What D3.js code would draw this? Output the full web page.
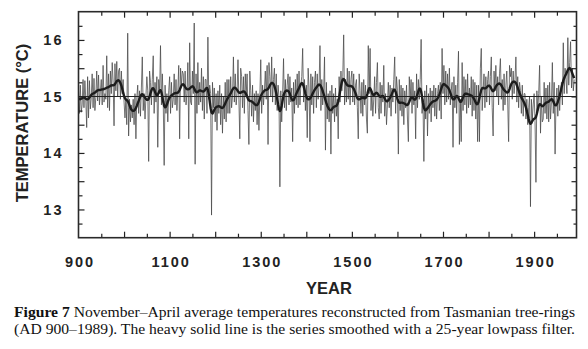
<!DOCTYPE html>
<html>
<head>
<meta charset="utf-8">
<script src="https://cdn.jsdelivr.net/npm/d3@7"></script>
<style>
  body { margin: 0; background: #fff; }
  svg { display: block; }
</style>
</head>
<body>
<svg id="chart" width="588" height="349"></svg>
<script>
// Reconstructed November–April temperatures (°C), one value every second year,
// grouped by century (first value of each array is the century's first year).
const temp900s = [
  15.12, 14.70, 15.20, 14.72, 14.85,  15.30, 14.80, 15.28, 14.95, 14.45,
  15.35, 14.62, 15.28, 14.78, 14.98,  15.40, 14.80, 15.32, 14.75, 14.98,
  15.45, 14.92, 15.38, 14.85, 15.10,  15.30, 14.85, 15.55, 14.90, 15.05,
  14.95, 15.72, 14.80, 15.40, 14.75,  15.45, 15.05, 15.60, 15.25, 14.48,
  15.58, 15.10, 15.62, 15.00, 15.45,  15.50, 14.95, 15.45, 15.05, 15.30
];
const temp1000s = [
  14.90, 14.62, 14.95, 14.50, 16.12,  14.30, 14.95, 14.55, 14.85, 14.62,
  14.95, 14.50, 15.05, 14.25, 14.98,  15.20, 14.70, 15.10, 14.65, 15.15,
  15.70, 14.75, 15.05, 14.60, 15.00,  15.35, 15.10, 13.85, 15.45, 15.25,
  14.85, 15.30, 15.72, 14.70, 15.25,  14.90, 15.35, 14.10, 15.30, 15.05,
  15.90, 14.85, 15.40, 14.90, 13.78,  15.20, 14.70, 15.05, 14.55, 15.10
];
const temp1100s = [
  15.35, 14.70, 15.25, 14.80, 14.95,  15.40, 14.85, 15.30, 14.75, 15.10,
  15.55, 14.25, 15.50, 15.20, 15.45,  15.40, 14.90, 15.45, 14.85, 15.05,
  15.60, 14.25, 15.95, 14.90, 14.85,  15.45, 15.05, 16.30, 13.80, 15.40,
  14.70, 15.60, 14.85, 15.25, 14.90,  15.50, 14.75, 15.35, 14.60, 15.30,
  15.30, 14.70, 16.05, 14.95, 15.20,  15.05, 12.90, 15.25, 14.80, 15.15
];
const temp1200s = [
  14.55, 15.05, 14.40, 15.10, 14.70,  15.20, 14.50, 15.05, 14.35, 15.00,
  14.60, 15.25, 14.55, 15.30, 14.70,  15.30, 14.70, 15.35, 14.80, 15.00,
  15.70, 14.90, 15.40, 14.85, 15.05,  15.65, 14.95, 14.25, 15.50, 15.35,
  14.80, 15.35, 14.70, 15.40, 15.00,  15.40, 14.75, 14.15, 15.45, 15.10,
  14.65, 15.20, 14.55, 15.05, 14.75,  15.10, 14.50, 15.05, 14.40, 15.00
];
const temp1300s = [
  15.65, 14.70, 15.20, 14.85, 15.10,  15.45, 14.95, 15.55, 14.15, 15.60,
  15.35, 15.00, 15.70, 14.90, 15.30,  15.50, 14.85, 15.40, 14.75, 15.20,
  15.00, 13.40, 15.10, 14.55, 15.05,  15.67, 14.80, 15.30, 14.75, 15.20,
  15.40, 14.85, 15.35, 14.90, 15.15,  14.20, 15.25, 14.70, 15.30, 14.85,
  15.40, 14.80, 15.45, 14.85, 15.20,  15.35, 15.85, 14.90, 15.30, 14.75
];
const temp1400s = [
  15.20, 14.27, 15.50, 15.15, 14.20,  15.40, 14.85, 15.35, 14.70, 15.25,
  15.45, 14.80, 15.40, 14.95, 15.20,  15.90, 14.75, 15.30, 14.85, 15.10,
  15.70, 14.05, 15.25, 14.60, 15.05,  14.55, 15.10, 13.98, 15.20, 14.70,
  15.05, 14.55, 15.15, 14.65, 14.95,  14.25, 15.35, 14.90, 15.45, 15.10,
  15.35, 16.09, 14.85, 15.30, 14.90,  15.50, 14.95, 15.45, 14.85, 15.30
];
const temp1500s = [
  15.45, 14.90, 15.40, 14.85, 15.20,  15.30, 14.80, 14.25, 15.40, 15.10,
  14.70, 15.25, 14.65, 15.30, 14.85,  15.20, 14.60, 14.35, 15.90, 15.05,
  15.85, 14.75, 15.10, 14.65, 14.95,  15.35, 14.70, 15.25, 15.60, 14.80,
  14.60, 15.25, 14.70, 15.20, 14.90,  15.55, 14.65, 15.05, 14.50, 14.85,
  15.25, 14.80, 15.20, 14.65, 15.15,  14.90, 15.30, 15.70, 14.70, 15.35
];
const temp1600s = [
  15.10, 13.98, 15.30, 14.75, 15.20,  14.65, 15.15, 14.50, 15.10, 14.80,
  15.20, 14.60, 14.20, 15.35, 14.95,  15.30, 14.70, 15.25, 14.85, 15.10,
  14.25, 15.40, 14.80, 15.30, 14.95,  15.30, 16.01, 14.70, 14.95, 13.85,
  15.10, 14.60, 15.20, 14.30, 15.05,  14.70, 15.15, 14.55, 15.10, 14.80,
  15.20, 14.65, 15.15, 14.60, 15.05,  15.20, 14.75, 15.25, 14.60, 15.85
];
const temp1700s = [
  15.05, 15.55, 14.85, 15.45, 14.90,  15.40, 14.95, 15.50, 14.85, 15.10,
  15.25, 14.10, 15.35, 14.80, 15.20,  14.70, 15.25, 15.80, 14.15, 14.95,
  14.20, 15.60, 14.75, 15.35, 14.85,  15.30, 14.70, 15.40, 14.80, 15.15,
  14.85, 15.35, 14.65, 15.30, 14.75,  15.25, 14.60, 15.20, 14.20, 15.20,
  14.20, 15.50, 15.85, 14.75, 15.10,  15.40, 14.80, 15.35, 14.90, 15.30
];
const temp1800s = [
  15.45, 14.85, 15.35, 15.70, 14.80,  14.30, 15.45, 15.10, 15.55, 15.00,
  15.35, 14.85, 15.40, 15.67, 14.95,  15.30, 14.75, 15.40, 14.85, 15.20,
  15.45, 14.90, 14.20, 15.55, 15.35,  15.50, 14.95, 15.45, 15.05, 15.30,
  15.70, 14.90, 15.35, 14.80, 15.25,  15.10, 14.70, 15.20, 14.65, 15.05,
  15.05, 14.60, 14.95, 14.50, 14.80,  15.00, 13.05, 14.95, 14.60, 14.85
];
const temp1900s = [
  15.05, 14.55, 13.48, 15.10, 14.75,  15.05, 15.55, 14.35, 15.00, 14.55,
  14.60, 15.25, 14.70, 15.15, 14.60,  15.20, 14.55, 15.25, 14.60, 14.90,
  15.60, 14.70, 15.25, 13.98, 14.90,  15.15, 14.65, 15.20, 14.75, 15.10,
  15.25, 14.85, 15.95, 15.05, 15.50,  15.30, 15.05, 16.04, 15.20, 15.60,
  15.97, 15.15, 15.50, 15.10, 15.30
];

// Axis labels
const yTickLabels = [13, 14, 15, 16];
const xTickLabels = [900, 1100, 1300, 1500, 1700, 1900];
const referenceTemp = 15;
const yAxisTitle = "TEMPERATURE (°C)";
const xAxisTitle = "YEAR";
const captionBold = "Figure 7";
const captionLine1 = " November–April average temperatures reconstructed from Tasmanian tree-rings";
const captionLine2 = "(AD 900–1989). The heavy solid line is the series smoothed with a 25-year lowpass filter.";

// ---- assemble the series ----
const centuries = [temp900s, temp1000s, temp1100s, temp1200s, temp1300s,
                   temp1400s, temp1500s, temp1600s, temp1700s, temp1800s, temp1900s];
const series = [];
centuries.forEach((arr, c) => arr.forEach((v, i) => series.push({ year: 900 + 100 * c + 2 * i, value: v })));

// 25-year lowpass: Gaussian weights (sigma ≈ 4.7 yr gives 50% response at 25 yr)
const sigma = 4.7;
const smooth = series.map(d => {
  let sw = 0, s = 0;
  series.forEach(e => {
    const dt = e.year - d.year;
    if (Math.abs(dt) <= 15) {
      const w = Math.exp(-dt * dt / (2 * sigma * sigma));
      sw += w; s += w * e.value;
    }
  });
  return { year: d.year, value: s / sw };
});

// ---- layout ----
const svg = d3.select("#chart");
const plotLeft = 78.5, plotRight = 576.5, plotTop = 11.7, plotBottom = 237.7;
const x = d3.scaleLinear().domain([900, 1993]).range([plotLeft, plotRight]);
const y = d3.scaleLinear().domain([12.5, 16.5]).range([plotBottom, plotTop]);
const ink = "#222";
const labelFont = "'Liberation Sans', Arial, Helvetica, sans-serif";

// data lines
const line = d3.line().x(d => x(d.year)).y(d => y(d.value));
svg.append("path").datum(series)
  .attr("d", line).attr("fill", "none")
  .attr("stroke", "#474747").attr("stroke-width", 0.75)
  .attr("stroke-linejoin", "miter");

svg.append("path").datum(smooth)
  .attr("d", line).attr("fill", "none")
  .attr("stroke", "#1c1c1c").attr("stroke-width", 2.4)
  .attr("stroke-linejoin", "round");

// reference line at 15 °C
svg.append("line")
  .attr("x1", plotLeft).attr("x2", plotRight)
  .attr("y1", y(referenceTemp)).attr("y2", y(referenceTemp))
  .attr("stroke", ink).attr("stroke-width", 1.1);

// ---- axes: ticks point inward on all four sides ----
const majorY = d3.range(13, 16.01, 0.5);
const minorY = d3.range(12.75, 16.3, 0.5);
const ticks50 = d3.range(950, 1951, 100);
const ticks100 = d3.range(1000, 1951, 100);

function styleAxis(g) {
  g.select(".domain").remove();
  g.selectAll(".tick line").attr("stroke", ink).attr("stroke-width", 1.2);
  g.selectAll("text")
    .attr("fill", ink)
    .style("font-family", labelFont)
    .style("font-weight", "bold")
    .style("font-size", "14.5px")
    .style("letter-spacing", "2px");
}

// left
svg.append("g").attr("transform", `translate(${plotLeft},0)`)
  .call(d3.axisLeft(y).tickValues(majorY).tickSize(-6).tickPadding(15)
        .tickFormat(d => yTickLabels.includes(d) ? d3.format("d")(d) : ""))
  .call(styleAxis);
svg.append("g").attr("transform", `translate(${plotLeft},0)`)
  .call(d3.axisLeft(y).tickValues(minorY).tickSize(-4).tickFormat(""))
  .call(styleAxis);
// right
svg.append("g").attr("transform", `translate(${plotRight},0)`)
  .call(d3.axisRight(y).tickValues(majorY).tickSize(-5).tickFormat(""))
  .call(styleAxis);
svg.append("g").attr("transform", `translate(${plotRight},0)`)
  .call(d3.axisRight(y).tickValues(minorY).tickSize(-3).tickFormat(""))
  .call(styleAxis);
// bottom
svg.append("g").attr("transform", `translate(0,${plotBottom})`)
  .call(d3.axisBottom(x).tickValues(xTickLabels).tickSize(0).tickPadding(19)
        .tickFormat(d3.format("d")))
  .call(styleAxis)
  .selectAll("text").attr("dx", "1px");
svg.append("g").attr("transform", `translate(0,${plotBottom})`)
  .call(d3.axisBottom(x).tickValues(ticks100).tickSize(-6).tickFormat(""))
  .call(styleAxis);
svg.append("g").attr("transform", `translate(0,${plotBottom})`)
  .call(d3.axisBottom(x).tickValues(ticks50.filter(v => v % 100 !== 0)).tickSize(-4).tickFormat(""))
  .call(styleAxis);
// top
svg.append("g").attr("transform", `translate(0,${plotTop})`)
  .call(d3.axisTop(x).tickValues(ticks100).tickSize(-6).tickFormat(""))
  .call(styleAxis);
svg.append("g").attr("transform", `translate(0,${plotTop})`)
  .call(d3.axisTop(x).tickValues(ticks50.filter(v => v % 100 !== 0)).tickSize(-4).tickFormat(""))
  .call(styleAxis);

// frame
svg.append("rect")
  .attr("x", plotLeft).attr("y", plotTop)
  .attr("width", plotRight - plotLeft).attr("height", plotBottom - plotTop)
  .attr("fill", "none").attr("stroke", "#2a2a2a").attr("stroke-width", 1.6);

// axis titles
svg.append("text")
  .attr("transform", `translate(28,123) rotate(-90)`)
  .attr("text-anchor", "middle")
  .attr("fill", ink)
  .style("font-family", labelFont).style("font-weight", "bold").style("font-size", "16.5px")
  .text(yAxisTitle);

svg.append("text")
  .attr("x", 329).attr("y", 294)
  .attr("text-anchor", "middle")
  .attr("fill", ink)
  .style("font-family", labelFont).style("font-weight", "bold").style("font-size", "16.5px")
  .text(xAxisTitle);

// caption
const serif = "'Liberation Serif', 'Times New Roman', Times, serif";
const cap1 = svg.append("text")
  .attr("x", 14).attr("y", 317)
  .attr("textLength", 561).attr("lengthAdjust", "spacingAndGlyphs")
  .attr("fill", "#111")
  .style("font-family", serif).style("font-size", "14px");
cap1.append("tspan").style("font-weight", "bold").text(captionBold);
cap1.append("tspan").text(captionLine1);

svg.append("text")
  .attr("x", 14).attr("y", 334)
  .attr("textLength", 561).attr("lengthAdjust", "spacingAndGlyphs")
  .attr("fill", "#111")
  .style("font-family", serif).style("font-size", "14px")
  .text(captionLine2);
</script>
</body>
</html>
